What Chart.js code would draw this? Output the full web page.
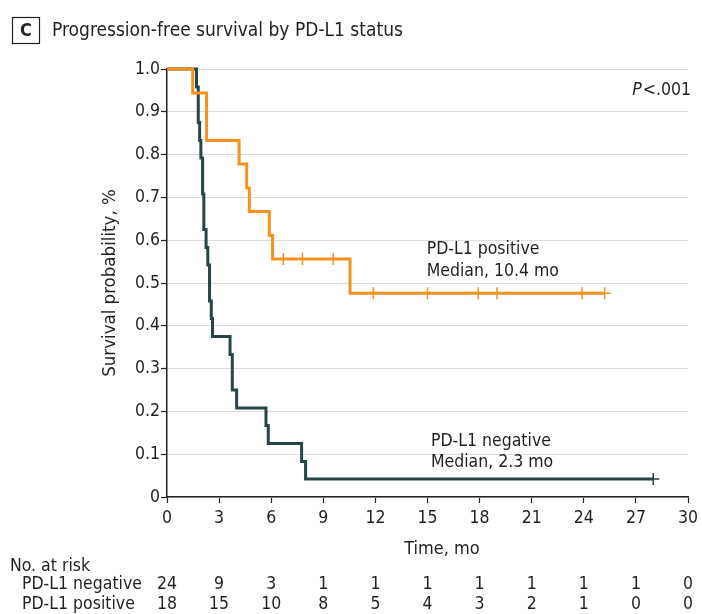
<!DOCTYPE html>
<html>
<head>
<meta charset="utf-8">
<script src="https://cdn.jsdelivr.net/npm/chart.js@4.4.1/dist/chart.umd.min.js"></script>
<style>
  html, body { margin: 0; padding: 0; background: #fff; }
  canvas { display: block; }
</style>
</head>
<body>
<canvas id="km" width="702" height="614"></canvas>
<script>
// ==================== Data ====================
const negTimes = [0, 1.70, 1.80, 1.88, 1.95, 2.05, 2.12, 2.25, 2.35, 2.45, 2.55, 2.62, 3.63, 3.76, 4.01, 5.70, 5.83, 7.75, 7.98, 28.0];
const negSurv  = [1, 0.958, 0.875, 0.833, 0.792, 0.708, 0.625, 0.583, 0.542, 0.458, 0.417, 0.375, 0.333, 0.250, 0.208, 0.167, 0.125, 0.083, 0.042, 0.042];
const negCensor = [28.0];

const posTimes = [0, 1.48, 2.28, 4.15, 4.59, 4.74, 5.89, 6.08, 10.54, 25.2];
const posSurv  = [1, 0.944, 0.833, 0.778, 0.722, 0.667, 0.611, 0.556, 0.476, 0.476];
const posCensor = [6.7, 7.8, 9.57, 11.88, 15.0, 17.92, 19.0, 23.9, 25.2];

const xTicks = [0, 3, 6, 9, 12, 15, 18, 21, 24, 27, 30];
const atRiskNeg = [24, 9, 3, 1, 1, 1, 1, 1, 1, 1, 0];
const atRiskPos = [18, 15, 10, 8, 5, 4, 3, 2, 1, 0, 0];

const ORANGE = '#F5921E';
const DARK = '#274546';
const TEXT = '#231f20';
const FONT = "'Liberation Sans Narrow', 'DejaVu Sans Condensed', 'Noto Sans', sans-serif";

function levelAt(times, surv, t) {
  let v = surv[0];
  for (let i = 0; i < times.length; i++) if (times[i] <= t) v = surv[i];
  return v;
}

const toPts = (ts, ss) => ts.map((t, i) => ({ x: t, y: ss[i] }));
const censorPts = (cs, ts, ss) => cs.map(t => ({ x: t, y: levelAt(ts, ss, t) }));

// ==================== Text overlay ====================
const overlay = {
  id: 'overlay',
  afterDraw(chart) {
    const ctx = chart.ctx;
    const xs = chart.scales.x, ys = chart.scales.y;
    ctx.save();
    ctx.fillStyle = TEXT;
    ctx.strokeStyle = TEXT;

    // panel letter box + title
    ctx.lineWidth = 1.2;
    ctx.strokeRect(12.5, 17.5, 27, 26);
    ctx.font = `bold 18px ${FONT}`;
    ctx.textAlign = 'center';
    ctx.textBaseline = 'middle';
    ctx.fillText('C', 26, 31);
    ctx.font = `19px ${FONT}`;
    ctx.textAlign = 'left';
    ctx.fillText('Progression-free survival by PD-L1 status', 52, 31);

    // P value
    ctx.font = `17.5px ${FONT}`;
    ctx.textAlign = 'right';
    const rest = '<.001';
    const rw = ctx.measureText(rest).width;
    ctx.fillText(rest, 691, 90);
    ctx.font = `italic 17.5px ${FONT}`;
    ctx.fillText('P', 691 - rw - 1, 90);
    ctx.textAlign = 'left';

    // curve labels
    ctx.font = `17.5px ${FONT}`;
    ctx.fillText('PD-L1 positive', xs.getPixelForValue(14.95), ys.getPixelForValue(0.578));
    ctx.fillText('Median, 10.4 mo', xs.getPixelForValue(14.95), ys.getPixelForValue(0.527));
    ctx.fillText('PD-L1 negative', xs.getPixelForValue(15.2), ys.getPixelForValue(0.13));
    ctx.fillText('Median, 2.3 mo', xs.getPixelForValue(15.2), ys.getPixelForValue(0.08));

    // x axis title
    ctx.font = `18px ${FONT}`;
    ctx.textAlign = 'center';
    ctx.fillText('Time, mo', 442, 549);

    // number at risk
    ctx.font = `17.5px ${FONT}`;
    ctx.textAlign = 'left';
    ctx.fillText('No. at risk', 10, 566);
    ctx.fillText('PD-L1 negative', 22, 584);
    ctx.fillText('PD-L1 positive', 22, 604);
    ctx.textAlign = 'center';
    xTicks.forEach((t, i) => {
      const px = xs.getPixelForValue(t);
      ctx.fillText(String(atRiskNeg[i]), px, 584);
      ctx.fillText(String(atRiskPos[i]), px, 604);
    });
    ctx.restore();
  }
};

// ==================== Chart ====================
new Chart(document.getElementById('km').getContext('2d'), {
  type: 'line',
  data: {
    datasets: [
      {
        label: 'PD-L1 positive',
        data: toPts(posTimes, posSurv),
        borderColor: ORANGE,
        borderWidth: 3,
        stepped: true,
        pointRadius: 0,
        fill: false,
        clip: 6
      },
      {
        label: 'PD-L1 negative',
        data: toPts(negTimes, negSurv),
        borderColor: DARK,
        borderWidth: 3,
        stepped: true,
        pointRadius: 0,
        fill: false,
        clip: 6
      },
      {
        label: 'pos censored',
        data: censorPts(posCensor, posTimes, posSurv),
        showLine: false,
        pointStyle: 'cross',
        pointRadius: 6,
        borderColor: ORANGE,
        borderWidth: 1.5,
        clip: 8
      },
      {
        label: 'neg censored',
        data: censorPts(negCensor, negTimes, negSurv),
        showLine: false,
        pointStyle: 'cross',
        pointRadius: 6,
        borderColor: DARK,
        borderWidth: 1.5,
        clip: 8
      }
    ]
  },
  options: {
    responsive: false,
    animation: false,
    layout: { padding: { top: 69, right: 14, left: 0, bottom: 0 } },
    plugins: {
      legend: { display: false },
      tooltip: { enabled: false }
    },
    scales: {
      x: {
        type: 'linear',
        min: 0,
        max: 30,
        afterFit: s => { s.height = 117; s.paddingRight = 0; },
        afterBuildTicks: s => { s.ticks = xTicks.map(v => ({ value: v })); },
        ticks: { color: TEXT, font: { family: FONT, size: 17.5 }, padding: 5 },
        grid: { drawOnChartArea: false, drawTicks: true, tickLength: 6, tickColor: TEXT, tickWidth: 1.2 },
        border: { color: TEXT, width: 1.5 }
      },
      y: {
        min: 0,
        max: 1,
        afterFit: s => { s.width = 167; },
        ticks: {
          stepSize: 0.1,
          color: TEXT,
          font: { family: FONT, size: 17.5 },
          padding: 1,
          callback: v => (Math.abs(v) < 1e-9 ? '0' : v.toFixed(1))
        },
        grid: { color: '#dcdcdc', lineWidth: 1, drawTicks: true, tickLength: 6, tickColor: TEXT, tickWidth: 1.2 },
        border: { color: TEXT, width: 1.5 },
        title: {
          display: true,
          text: 'Survival probability, %',
          color: TEXT,
          font: { family: FONT, size: 18.5 },
          padding: { top: 99, bottom: 0 }
        }
      }
    }
  },
  plugins: [overlay]
});
</script>
</body>
</html>
